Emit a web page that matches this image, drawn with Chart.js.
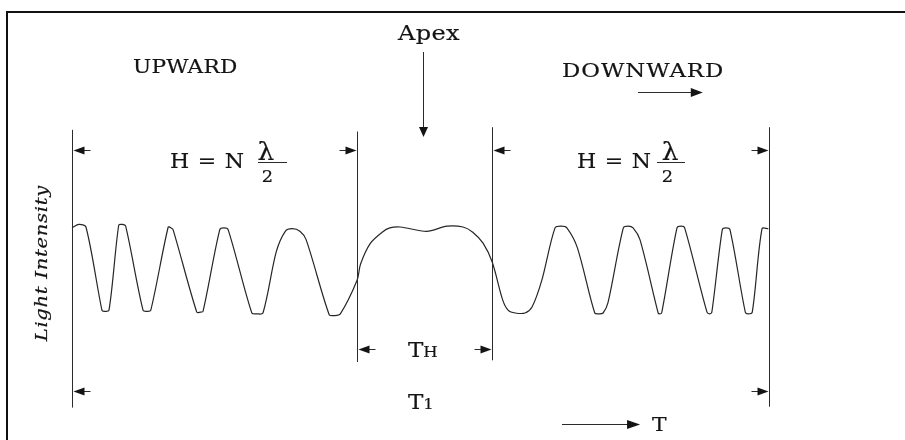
<!DOCTYPE html>
<html>
<head>
<meta charset="utf-8">
<script src="https://cdn.jsdelivr.net/npm/chart.js@4/dist/chart.umd.min.js"></script>
<style>
  html, body { margin: 0; padding: 0; background: #fff; overflow: hidden; }
  #wrap { position: relative; width: 905px; height: 440px; overflow: hidden; }
  #frame { position: absolute; left: 6px; top: 11px; width: 1200px; height: 1000px;
           border-left: 2px solid #111; border-top: 2px solid #111; }
  canvas { position: absolute; left: 0; top: 0; }
</style>
</head>
<body>
<div id="wrap">
  <div id="frame"></div>
  <canvas id="c" width="905" height="440"></canvas>
</div>
<script>
// ---- data (time in arbitrary units 0..100, light intensity 0 = trough, 1 = crest)
const timeValues = [0, 1.0, 2.0, 4.3, 4.6, 5.3, 6.7, 7.2, 7.7, 10.2, 10.8, 11.3, 13.8, 14.2, 14.5,
  17.9, 18.4, 18.8, 21.2, 21.8, 22.4, 25.8, 26.5, 27.4, 29.3, 30.6, 31.6, 32.7, 33.6, 36.9, 37.6, 38.5,
  40.9, 41.4, 42.8, 44.5, 45.6, 47.1, 50.9, 53.8, 56.1, 57.5, 59.0, 60.3, 61.8, 62.6, 63.6, 65.0,
  66.0, 67.4, 69.3, 70.2, 71.0, 72.5, 75.0, 75.6, 76.2, 76.9, 79.1, 79.8, 80.5, 81.5, 84.1, 84.3, 84.6,
  86.8, 87.4, 87.9, 91.1, 91.5, 91.8, 93.3, 93.8, 94.4, 96.6, 97.0, 97.6, 99.0, 99.9];
const intensityValues = [0.99, 1.03, 1.00, 0.03, 0.02, 0.03, 1.02, 1.03, 1.01, 0.03, 0.02, 0.03, 1.00, 0.99, 0.97,
  0.01, 0.01, 0.02, 0.97, 0.99, 0.97, 0.00, -0.01, 0.00, 0.71, 0.95, 0.98, 0.95, 0.85, -0.02, -0.03, -0.01,
  0.38, 0.57, 0.81, 0.94, 0.99, 1.00, 0.95, 1.01, 1.00, 0.94, 0.81, 0.59, 0.15, 0.03, 0.00, 0.00,
  0.07, 0.38, 0.99, 1.01, 0.99, 0.76, 0.00, -0.01, 0.00, 0.12, 0.99, 1.01, 0.99, 0.85, 0.00, -0.01, 0.00,
  0.99, 1.01, 0.99, 0.01, -0.01, 0.01, 0.97, 0.99, 0.97, 0.01, -0.01, 0.01, 0.98, 0.98];
// phase boundaries: start of upward run, start of apex window, end of apex window, end of downward run
const boundaries = [0, 40.9, 60.3, 100];
const phaseLabels = ['UPWARD', 'DOWNWARD'];
const apexLabel = 'Apex';
const axisTitle = 'Light Intensity';
const timeLabel = 'T';

// ---- layout of annotation elements (in chart units)
const layoutCfg = {
  vlines: [
    { b: 0, top: 2.13, bottom: -1.10 },
    { b: 1, top: 2.11, bottom: -0.57 },
    { b: 2, top: 2.16, bottom: -0.55 },
    { b: 3, top: 2.16, bottom: -1.09 }
  ],
  dims: [
    { from: 0, to: 1, level: 1.895 },
    { from: 2, to: 3, level: 1.895 },
    { from: 1, to: 2, level: -0.419 },
    { from: 0, to: 3, level: -0.907 }
  ],
  formulas: [
    { hx: 14.06, lamX: 27.83, barX0: 26.69, barX1: 30.85, twoX: 28.05 },
    { hx: 72.45, lamX: 85.8, barX0: 83.93, barX1: 87.95, twoX: 85.44 }
  ]
};

const INK = '#141414';
const LINE = '#2b2b2b';
const SERIF = '"DejaVu Serif", "Liberation Serif", serif';

function arrow(ctx, x0, y0, x1, y1, headLen, halfW) {
  const ang = Math.atan2(y1 - y0, x1 - x0);
  ctx.beginPath();
  ctx.moveTo(x0, y0);
  ctx.lineTo(x1 - Math.cos(ang) * headLen * 0.6, y1 - Math.sin(ang) * headLen * 0.6);
  ctx.stroke();
  ctx.beginPath();
  ctx.moveTo(x1, y1);
  ctx.lineTo(x1 - Math.cos(ang) * headLen - Math.sin(ang) * halfW, y1 - Math.sin(ang) * headLen + Math.cos(ang) * halfW);
  ctx.lineTo(x1 - Math.cos(ang) * headLen + Math.sin(ang) * halfW, y1 - Math.sin(ang) * headLen - Math.cos(ang) * halfW);
  ctx.closePath();
  ctx.fill();
}

// text drawn with a horizontal stretch (wide book-style serif look)
function txt(ctx, s, x, y, font, sx, ls, align) {
  ctx.save();
  ctx.font = font;
  ctx.letterSpacing = ls + 'px';
  ctx.textAlign = 'left';
  ctx.textBaseline = 'alphabetic';
  const w = (ctx.measureText(s).width - ls) * sx;
  const x0 = align === 'center' ? x - w / 2 : x;
  ctx.translate(x0, y);
  ctx.scale(sx, 1);
  ctx.fillText(s, 0, 0);
  ctx.lineWidth = 0.2;
  ctx.strokeStyle = INK;
  ctx.strokeText(s, 0, 0);
  ctx.restore();
  return w;
}

const diagramPlugin = {
  id: 'diagram',
  afterDatasetsDraw(chart) {
    const { ctx, scales: { x, y } } = chart;
    const X = v => x.getPixelForValue(v);
    const Y = v => y.getPixelForValue(v);
    const crisp = p => Math.round(p) + 0.5;
    ctx.save();
    ctx.strokeStyle = LINE;
    ctx.fillStyle = INK;
    ctx.lineWidth = 1;

    // boundary lines
    layoutCfg.vlines.forEach(v => {
      const px = crisp(X(boundaries[v.b]));
      ctx.beginPath();
      ctx.moveTo(px, Y(v.top));
      ctx.lineTo(px, Y(v.bottom));
      ctx.stroke();
    });

    // dimension arrows (pointing outward at each boundary)
    layoutCfg.dims.forEach(d => {
      const xl = crisp(X(boundaries[d.from]));
      const xr = crisp(X(boundaries[d.to]));
      const py = crisp(Y(d.level));
      arrow(ctx, xl + 18, py, xl + 1, py, 11, 4);
      arrow(ctx, xr - 18, py, xr - 1, py, 11, 4);
    });

    // Apex label + arrow
    txt(ctx, apexLabel, X(46.77), Y(3.174), '20px ' + SERIF, 1.2, 0.3, 'left');
    arrow(ctx, crisp(X(50.36)), Y(3.035), crisp(X(50.36)), Y(2.047), 10, 4.5);

    // phase labels
    txt(ctx, phaseLabels[0], X(8.75), Y(2.79), '18px ' + SERIF, 1.2, 0.2, 'left');
    txt(ctx, phaseLabels[1], X(70.3), Y(2.744), '19px ' + SERIF, 1.2, 0.8, 'left');
    arrow(ctx, X(81.2), crisp(Y(2.57)), X(90.5), crisp(Y(2.57)), 12, 4.5);

    // H = N lambda/2 formulas
    layoutCfg.formulas.forEach(f => {
      txt(ctx, 'H = N', X(f.hx), Y(1.686), '20px ' + SERIF, 1.1, 0.7, 'left');
      txt(ctx, '\u03BB', X(f.lamX), Y(1.775), '24px ' + SERIF, 1.1, 0, 'center');
      ctx.beginPath();
      ctx.moveTo(X(f.barX0), crisp(Y(1.756)));
      ctx.lineTo(X(f.barX1), crisp(Y(1.756)));
      ctx.stroke();
      txt(ctx, '2', X(f.twoX), Y(1.523), '17px ' + SERIF, 1.05, 0, 'center');
    });

    // T_H and T_1
    const tW = txt(ctx, 'T', X(48.2), Y(-0.512), '20px ' + SERIF, 1.15, 0, 'left');
    txt(ctx, 'T', X(48.2), Y(-1.116), '20px ' + SERIF, 1.15, 0, 'left');
    txt(ctx, 'H', X(48.2) + tW, Y(-0.512), '15px ' + SERIF, 1.1, 0, 'left');
    txt(ctx, '1', X(48.2) + tW, Y(-1.116), '15px ' + SERIF, 1.1, 0, 'left');

    // time arrow
    arrow(ctx, X(70.3), crisp(Y(-1.29)), X(81.5), crisp(Y(-1.29)), 13, 4.5);
    txt(ctx, timeLabel, X(83.2), Y(-1.372), '19px ' + SERIF, 1.15, 0, 'left');

    // vertical axis title
    ctx.save();
    ctx.translate(X(-4.45), Y(0.58));
    ctx.rotate(-Math.PI / 2);
    ctx.font = 'italic 17px ' + SERIF;
    ctx.letterSpacing = '0.6px';
    const w = ctx.measureText(axisTitle).width * 1.15;
    ctx.translate(-w / 2, 6);
    ctx.scale(1.15, 1);
    ctx.textAlign = 'left';
    ctx.textBaseline = 'alphabetic';
    ctx.fillText(axisTitle, 0, 0);
    ctx.lineWidth = 0.2;
    ctx.strokeStyle = INK;
    ctx.strokeText(axisTitle, 0, 0);
    ctx.restore();

    ctx.restore();
  }
};

new Chart(document.getElementById('c'), {
  type: 'line',
  data: {
    datasets: [{
      data: timeValues.map((t, i) => ({ x: t, y: intensityValues[i] })),
      borderColor: '#262626',
      borderWidth: 1.2,
      pointRadius: 0,
      tension: 0.3,
      fill: false,
      clip: false
    }]
  },
  options: {
    responsive: false,
    animation: false,
    devicePixelRatio: 1,
    // chart area spans intensity -0.2..1.2 and time 0..100
    layout: { padding: { left: 72, right: 136, top: 209.8, bottom: 109.8 } },
    scales: {
      x: { type: 'linear', min: 0, max: 100, display: false },
      y: { type: 'linear', min: -0.2, max: 1.2, display: false }
    },
    plugins: { legend: { display: false }, tooltip: { enabled: false }, title: { display: false } },
    events: []
  },
  plugins: [diagramPlugin]
});
</script>
</body>
</html>
